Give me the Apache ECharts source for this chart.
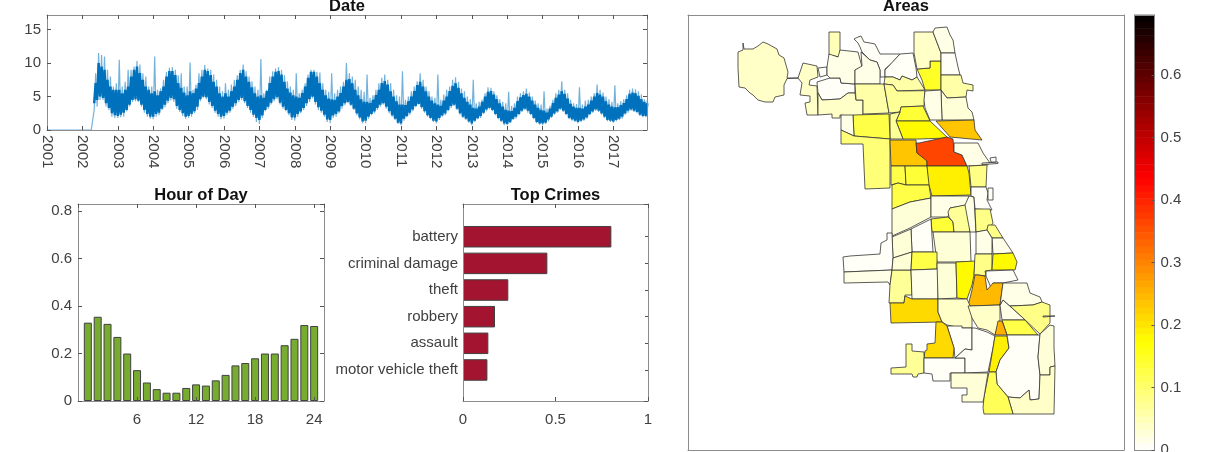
<!DOCTYPE html>
<html>
<head>
<meta charset="utf-8">
<title>Chicago crime</title>
<style>html,body{margin:0;padding:0;background:#fff}#main{width:1212px;height:452px}</style>
<script src="https://cdn.jsdelivr.net/npm/echarts@6/dist/echarts.min.js"></script>
</head>
<body>
<div id="main"></div>
<script>
// monthly band of the daily series, Jan 2001 - Dec 2017
var dateOuterHigh = [
  .1,.1,.1,.1,.1,.1,.1,.1,.1,.1,.1,.1,
  .1,.1,.1,.1,8.5,11.5,11.2,11,9,8,6.5,7,
  10.5,6.5,7.2,9,9,9.5,10.3,9.8,8.5,8,6.5,6.5,
  11,6,6.2,7.5,8.7,9.3,9.4,9,8.2,8.5,6.5,6.5,
  10.1,6,6.8,8.5,9,9.7,9.2,9,8.3,7.5,6.5,5.8,
  7,6,6.8,7.5,8.2,9,9.8,8.8,8,7.3,6.5,6,
  10.6,5.5,6,8,8.8,9.2,9.4,9,8.2,7.3,6.5,6,
  8.5,5.5,6,7,8.3,9,9,8.7,8.6,7,6,5.7,
  8.5,5.5,6,6.5,7.2,10,8.5,8,7.5,6.5,6,5.7,
  8.3,4.8,5.2,6,7,7.8,8.3,7.5,7,6,5.2,5,
  8.8,4.5,5,5.8,6.5,7.3,8.5,7.5,6.5,5.8,5,4.8,
  8.3,4.5,5.3,6,6.5,7.5,7.9,7.2,6.2,5.8,5,4.6,
  7.5,4,4.2,4.5,5.5,6.4,6.3,5.8,5.2,4.6,4.2,4,
  5.7,3.6,4,5,5.5,5.8,6.2,5.6,5,4.4,4,3.8,
  5.8,3.2,3.6,4.5,5.5,6,7.3,6,5.5,4.5,4,3.9,
  6.4,3.8,4.4,4.5,5,5.5,6.8,6,5.6,5,4.6,4.2,
  6.7,4,4.3,4.6,5.2,6,6.2,6.1,5.8,5.3,4.6,4.5
];
var dateOuterLow = [
  0,0,0,0,0,0,0,0,0,0,0,0,
  0,0,0,0,3,3.5,4.5,4.5,3.5,3,2,1.8,
  1.8,1.9,2,2.8,3.5,4.2,4.3,4.2,3.5,2.6,2,1.7,
  1.6,2,2.2,3,3.4,4,4.4,4.2,3.2,2.7,2.1,1.7,
  1.8,2,2.5,3,4.3,4.8,4.6,3.8,3.3,2.6,2,1.6,
  1.7,2.3,2.6,3.2,3.6,4.2,4.5,4,3.3,2.6,2,1.2,
  .9,1.8,2.8,3.2,3.8,4.3,4.6,3.8,3.2,2.8,2.2,1.5,
  1.4,2,2.5,3,3.6,4.2,4.7,3.8,3,2.6,2,1.2,
  1,1.8,2,2.5,3.2,3.7,4,3.6,3,2.2,1.6,1,
  1,1.7,2.2,2.5,3,3.5,3.8,3.2,2.5,2,1.5,.9,
  .7,1.4,1.9,2.3,2.8,3.4,3.8,3.2,2.6,2,1.6,1.2,
  1,1.5,2,2.2,2.8,3.3,3.6,3,2.3,1.8,1.5,1.1,
  .7,1.2,1.6,1.8,2.4,2.8,3.1,2.8,2.2,1.6,1.2,.7,
  .7,1,1.5,1.7,2.2,2.7,3,2.6,2.2,1.6,1,.8,
  .7,.9,1.3,1.8,2.3,2.6,3,2.7,2.2,1.6,1.4,1.2,
  1,1.2,1.4,1.7,2.2,2.6,2.9,2.7,2.3,1.8,1.3,1.2,
  1.1,1.3,1.5,1.7,2.3,2.6,2.9,2.7,2.5,2.1,1.9,1.9
];
// dense part of the trace, starts May 2002
var dateCoreStart = 16;
var dateCoreHigh = [
  7,10,9.5,9,7.5,6.5,6,6,
  6,5.5,6,6.5,8,9,9.5,8.5,7.5,6.5,6,5.5,
  5.8,5.2,5.8,6.5,8,8.8,8.8,8.2,7,6.3,5.6,5.2,
  5.8,5.5,6.2,7,8,9,8.8,8.2,7.2,6.5,5.5,5,
  5.5,5,5.8,6.5,7.5,8.5,9,8,7.2,6.4,5.5,5,
  5.2,4.8,5.8,7,8,8.7,8.8,8.3,7.2,6.2,5.6,5.2,
  5,4.8,5.5,6.5,7.8,8.7,8.7,8,7,6,5.2,4.7,
  4.6,4.5,5,5.5,6.5,7.5,7.6,7,6,5.2,4.6,4.2,
  4.2,4,4.5,5.2,6,7,7.3,6.8,5.8,5,4.3,3.8,
  3.8,3.7,4.3,5,5.8,6.7,7.2,6.5,5.8,5,4.4,4,
  3.8,3.6,4.4,5,5.8,6.6,7,6.3,5.5,4.8,4.2,3.8,
  3.3,3.2,3.5,4.2,5,5.7,5.8,5.3,4.6,4,3.5,3,
  2.9,2.8,3.3,4.3,4.9,5.2,5.4,5,4.4,3.8,3.3,3,
  2.9,2.6,3.2,4,4.8,5.3,5.8,5.4,4.7,3.9,3.5,3.3,
  3.3,3.2,3.5,3.8,4.4,5,5.5,5.3,5,4.3,3.8,3.5,
  3.4,3.4,3.7,4,4.6,5.4,5.6,5.5,5.1,4.6,4.2,4
];
var dateCoreLow = [
  4,4.5,5,4.8,4,3.3,2.5,2.2,
  2.1,2.3,2.6,3,3.8,4.5,4.6,4.4,3.8,3,2.4,2,
  2,2.4,2.6,3.2,3.8,4.4,4.8,4.6,3.6,3,2.5,2,
  2.1,2.4,2.8,3.5,4.6,5,4.9,4.2,3.6,2.9,2.4,2,
  2.1,2.6,2.9,3.5,4,4.5,4.8,4.3,3.6,3,2.3,1.8,
  1.5,2.2,3,3.5,4.1,4.6,4.9,4.1,3.5,3,2.5,1.9,
  1.9,2.4,2.8,3.3,4,4.6,5,4.2,3.4,2.9,2.3,1.6,
  1.5,2.2,2.4,2.8,3.6,4,4.2,3.8,3.2,2.5,1.9,1.3,
  1.4,2,2.4,2.8,3.3,3.8,4,3.5,2.8,2.2,1.7,1.1,
  1,1.7,2.1,2.6,3.1,3.6,3.9,3.4,2.8,2.2,1.8,1.4,
  1.3,1.8,2.2,2.5,3,3.6,3.8,3.2,2.5,2,1.7,1.3,
  1,1.4,1.8,2.1,2.6,3.1,3.3,3,2.4,1.8,1.4,1,
  .9,1.2,1.7,2,2.4,2.9,3.2,2.9,2.4,1.8,1.2,1,
  1,1.1,1.6,2,2.5,2.8,3.2,2.9,2.4,1.8,1.6,1.4,
  1.2,1.4,1.6,1.9,2.4,2.8,3.1,2.9,2.5,2,1.5,1.4,
  1.3,1.5,1.7,2,2.5,2.9,3.1,2.9,2.7,2.3,2.1,2.1
];

var hourValues = [.33,.355,.325,.27,.2,.13,.078,.05,.035,.035,.055,.07,.065,.087,.11,.15,.16,.18,.2,.2,.235,.262,.32,.316];

var crimeNames = ['battery','criminal damage','theft','robbery','assault','motor vehicle theft'];
var crimeValues = [.802,.456,.245,.173,.137,.132];

// one value per outline below, same order
var areaValues = [
  .035,.035,0,0,.035,.05,.012,0,0,.012,
  .06,.055,.07,.15,.035,.012,0,.06,.025,.012,
  .14,.175,.23,.075,.13,.012,.09,.23,.365,.012,
  0,0,.125,.14,.195,.08,.125,.03,.02,.135,
  .07,.02,0,0,.08,.08,.015,.012,.025,.01,
  .03,0,.012,.07,.03,.13,.015,.03,.175,.08,
  .18,0,.24,.21,.04,.01,.21,.07,0,0,
  .04,.015,.02,.08,.13,.255,.195,.008,.03,.035,
  .11,.025,0
];
// area outlines in map units
var areaOutlines = [
  [[738,52],[743,50],[743,43],[744,49],[753,49],[758,46],[763,42],[768,44],[777,49],[779,55],[784,58],[788,72],[787,78],[798,78],[787,78.6],[784,85],[784,95],[775,97],[773,102],[765,102],[758,100],[753,95],[750,93],[745,88],[739,87],[738,68]],
  [[798,78],[803,63],[817,66],[818,77],[810,80],[809,85],[817,86],[818,115],[807,115],[805,103],[810,102],[810,96],[800,95],[802,83]],
  [[817,82],[830,78],[840,78],[841,83],[855,84],[855,93],[848,93],[840,99],[822,100],[818,93]],
  [[818,68],[827,67],[827,75],[820,77]],
  [[822,100],[840,99],[848,93],[855,93],[856,100],[863,100],[863,118],[840,115],[840,118],[832,118],[832,114],[818,115],[818,93]],
  [[829,32],[840,32],[840,57],[829,55]],
  [[829,54],[838,57],[840,50],[858,52],[862,67],[855,70],[855,84],[841,83],[840,78],[830,78],[827,75],[827,67]],
  [[854,39],[858,37],[861,36],[864,42],[870,43],[875,44],[880,54],[900,54],[892,63],[885,69],[885,77],[880,77],[880,70],[877,62],[870,60],[862,52],[860,47],[858,43]],
  [[885,70],[900,54],[913,53],[916,68],[917,77],[912,80],[902,76],[900,80],[893,77],[885,77]],
  [[855,70],[862,66],[861,52],[870,60],[877,62],[880,70],[880,84],[855,84]],
  [[855,84],[884,84],[889,113],[863,114],[863,100],[856,100]],
  [[885,77],[893,77],[900,80],[902,76],[912,80],[917,77],[925,90],[897,91],[893,85],[884,84]],
  [[893,85],[897,91],[925,90.7],[924,106],[901,107],[900,112],[889,113],[884,84]],
  [[917,69],[930,68],[930,61],[941,61],[941,90],[925,90],[922,80]],
  [[914,32],[933,32],[941,53],[941,61],[930,61],[930,68],[917,69],[914,53]],
  [[933,32],[935,28],[947,27],[950,35],[953,40],[955,53],[941,53]],
  [[941,53],[955,53],[958,67],[960,75],[941,75]],
  [[941,75],[961,75],[963,83],[973,85],[973,91],[967,90],[966,97],[947,98],[941,90]],
  [[947,98],[966,97],[968,108],[972,112],[974,120],[942,120],[941,90]],
  [[925,91],[941,90],[942,120],[930,120],[925,108],[924,100]],
  [[901,107],[923,106],[930,121],[896,121],[900,112]],
  [[896,121],[930,121],[948,138],[919,139],[903,139]],
  [[936,121],[974,120],[975,130],[982,140],[950,137]],
  [[890,114],[900,112],[896,121],[903,139],[890,139]],
  [[853,115],[889,114],[890,139],[854,136]],
  [[841,115],[853,115],[854,136],[841,130]],
  [[841,130],[854,136],[890,139],[890,188],[865,189],[863,144],[841,144]],
  [[890,140],[916,140],[917,153],[927,160],[927,166],[891,166]],
  [[919,143],[947,137],[953,139],[954,152],[962,155],[967,166],[927,166],[927,161],[917,153],[916,143]],
  [[954,143],[978,143],[983,153],[990,163],[987,165],[967,166],[962,155],[954,152]],
  [[982,163],[998,162],[998,163.5],[982,164.5]],
  [[990,158],[996,157],[996,162],[991,162]],
  [[891,166],[905,166],[906,185],[898,183],[891,185]],
  [[905,166],[927,166],[930,185],[906,185]],
  [[927,166],[967,166],[969,173],[971,195],[932,196],[929,185]],
  [[969,166],[987,165],[986,187],[971,187]],
  [[892,185],[898,183],[906,185],[929,185],[931,198],[910,202],[892,209]],
  [[892,209],[910,202],[931,198],[931,217],[910,228],[892,236]],
  [[931,196],[969,196],[967,205],[950,208],[948,217],[931,217]],
  [[931,219],[948,217],[953,222],[954,232],[932,232]],
  [[948,212],[950,208],[965,205],[969,210],[970,232],[954,232],[953,222],[949,217]],
  [[969,196],[974,197],[976,232],[970,232],[965,205]],
  [[971,187],[986,187],[988,193],[987,200],[992,210],[975,209],[974,197],[971,196]],
  [[988,188],[993,188],[993,200],[988,200]],
  [[975,209],[990,209],[993,223],[988,230],[976,232]],
  [[988,225],[995,225],[1003,238],[992,238],[987,230]],
  [[992,238],[1003,238],[1013,253],[993,254]],
  [[976,232],[987,230],[992,238],[992,254],[976,254]],
  [[933,232],[970,232],[971,262],[937,262]],
  [[911,229],[931,219],[933,252],[912,252]],
  [[892,237],[911,229],[912,252],[893,258]],
  [[843,257],[850,256],[880,254],[881,243],[887,240],[887,233],[892,233],[893,258],[892,270],[844,272]],
  [[844,272],[892,270],[890,285],[888,282],[844,283]],
  [[892,270],[911,270],[912,295],[905,295],[904,303],[889,303],[890,285]],
  [[893,258],[912,252],[911,270],[892,270]],
  [[912,252],[937,252],[937,269],[911,270]],
  [[911,270],[938,269],[938,299],[912,299]],
  [[937,263],[956,263],[957,298],[938,299]],
  [[956,262],[975,261],[974,275],[972,285],[967,299],[957,298]],
  [[975,254],[992,254],[992,270],[985,271],[986,276],[978,275],[974,275]],
  [[993,254],[1013,253],[1017,262],[1015,270],[992,270]],
  [[986,271],[1013,270],[1018,280],[1003,283],[993,283],[992,290],[986,276]],
  [[978,275],[985,276],[987,290],[993,283],[1003,283],[1000,305],[968,306],[972,290],[975,275]],
  [[905,296],[912,299],[938,299],[938,312],[942,322],[891,323],[890,303],[904,303]],
  [[938,299],[967,299],[972,310],[972,328],[962,328],[947,325],[942,322],[938,312]],
  [[947,326],[962,326],[962,328],[972,328],[972,350],[965,349],[955,358],[954,348]],
  [[936,322],[942,322],[947,326],[954,348],[953,358],[924,358],[925,351],[927,350],[927,344],[935,343]],
  [[906,344],[912,344],[912,351],[924,352],[924,373],[918,374],[917,377],[913,377],[912,374],[891,374],[891,368],[906,367]],
  [[924,358],[965,358],[965,373],[950,373],[950,381],[933,381],[932,374],[924,373]],
  [[972,328],[975,328],[987,332],[995,336],[993,348],[988,372],[965,373],[965,358],[955,358],[965,349],[972,350]],
  [[968,306],[1000,305],[1000,320],[995,335],[987,330],[978,328],[972,318]],
  [[1000,305],[1003,300],[1022,317],[1025,320],[1002,320]],
  [[1003,283],[1027,283],[1030,293],[1040,297],[1042,302],[1033,305],[1010,306],[1003,300],[1000,305]],
  [[1010,306],[1033,305],[1042,302],[1050,305],[1050,323],[1040,334],[1022,317]],
  [[1002,320],[1025,320],[1038,335],[1007,335]],
  [[998,321],[1002,321],[1007,335],[995,335]],
  [[995,336],[1007,336],[1009,348],[1000,360],[996,372],[989,372]],
  [[1007,335],[1040,335],[1038,357],[1040,375],[1039,399],[1030,400],[1029,390],[1020,398],[1008,397],[997,384],[996,372],[1000,360],[1009,348]],
  [[1040,334],[1050,325],[1054,326],[1054,348],[1055,366],[1050,367],[1050,375],[1040,375],[1038,357]],
  [[1040,375],[1050,375],[1050,367],[1055,366],[1054,414],[1013,414],[1008,397],[1020,398],[1029,390],[1030,400],[1039,399]],
  [[989,372],[996,372],[997,384],[1008,397],[1013,414],[984,414],[983,408],[984,397]],
  [[951,373],[988,373],[984,397],[983,402],[962,402],[962,395],[967,395],[967,388],[951,388]],
  [[1043,316],[1055,316],[1055,317],[1043,317]]
];

var colorMax = 0.696;
var colorSteps = 64;

var fontName = 'Liberation Sans';
var textColor = '#404040';
var frameColor = '#8c8c8c';

// zigzag between the low and high of each month, so the band reads as a dense daily trace
function zigzag(low, high, start) {
    var pts = [];
    for (var i = 0; i < low.length; i++) {
        var t = 2001 + (i + start) / 12;
        pts.push([t, low[i]]);
        pts.push([t + 1 / 24, high[i]]);
    }
    return pts;
}

// MATLAB's hot map, flipped
function hotPieces() {
    var list = [];
    for (var i = 0; i < colorSteps; i++) {
        var h = 1 - (i + 0.5) / colorSteps;
        var r = Math.min(1, h / 0.375);
        var g = Math.max(0, Math.min(1, (h - 0.375) / 0.375));
        var b = Math.max(0, Math.min(1, (h - 0.75) / 0.25));
        list.push({
            min: colorMax * i / colorSteps,
            max: colorMax * (i + 1) / colorSteps,
            color: 'rgb(' + Math.round(r * 255) + ',' + Math.round(g * 255) + ',' + Math.round(b * 255) + ')'
        });
    }
    return list;
}

function colorbarCells() {
    var cells = [];
    for (var i = 0; i < colorSteps; i++) {
        cells.push([0, i, colorMax * (i + 0.5) / colorSteps]);
    }
    return cells;
}

function mapData() {
    var out = [];
    for (var i = 0; i < areaValues.length; i++) {
        out.push({ name: 'area' + i, value: areaValues[i] });
    }
    return out;
}

function mapJson() {
    var features = areaOutlines.map(function (ring, i) {
        return {
            type: 'Feature',
            properties: { name: 'area' + i },
            geometry: { type: 'Polygon', coordinates: [ring.concat([ring[0]])] }
        };
    });
    return { type: 'FeatureCollection', features: features };
}

echarts.registerMap('chicago', mapJson());

function ticks(inside, len) {
    return { show: inside, inside: true, length: len || 4, lineStyle: { color: '#555', width: 1 } };
}
function lineOn() {
    return { show: true, onZero: false, lineStyle: { color: frameColor, width: 1 } };
}
function labelStyle(extra) {
    var o = { color: textColor, fontFamily: fontName, fontSize: 15, hideOverlap: false };
    for (var k in extra) o[k] = extra[k];
    return o;
}
function plainAxis(gridIndex, type, position, min, max, interval) {
    return {
        type: type, gridIndex: gridIndex, position: position, min: min, max: max, interval: interval, z: 10,
        splitLine: { show: false }, axisLine: lineOn(), axisTick: ticks(true), axisLabel: { show: false }
    };
}

var xAxes = [], yAxes = [];

function addBox(gridIndex, x, y) {
    xAxes.push(x);
    yAxes.push(y);
    xAxes.push(plainAxis(gridIndex, 'value', 'top', x.min, x.max, x.interval));
    yAxes.push(plainAxis(gridIndex, 'value', 'right', y.min, y.max, y.interval));
}

// 0 date
var dx = plainAxis(0, 'value', 'bottom', 2001, 2017.95, 1);
dx.axisLabel = labelStyle({ show: true, rotate: -90, margin: 5, showMaxLabel: false, formatter: function (v) { return '' + v; } });
var dy = plainAxis(0, 'value', 'left', 0, 17.2, 5);
dy.axisLabel = labelStyle({ show: true, margin: 6, showMaxLabel: false });
addBox(0, dx, dy);

// 1 hour of day
var hx = plainAxis(1, 'value', 'bottom', 0, 25, 6);
hx.axisLabel = labelStyle({ show: true, margin: 11, showMinLabel: false, showMaxLabel: false });
var hy = plainAxis(1, 'value', 'left', 0, 0.83, 0.2);
hy.axisLabel = labelStyle({ show: true, margin: 6, showMaxLabel: false });
addBox(1, hx, hy);

// 2 top crimes frame with the x scale
var cx = plainAxis(2, 'value', 'bottom', 0, 1, 0.5);
cx.axisLabel = labelStyle({ show: true, margin: 11 });
var cy = plainAxis(2, 'value', 'left', 0, 1, 1);
cy.axisTick = { show: false };
addBox(2, cx, cy);

// 3 top crimes bars, set inside the frame so the bands line up
xAxes.push({ type: 'value', gridIndex: 3, min: 0, max: 1, show: false });
yAxes.push({
    type: 'category', gridIndex: 3, data: crimeNames, inverse: true, position: 'left',
    axisLine: { show: false }, axisTick: { show: false },
    axisLabel: labelStyle({ show: true, margin: 5 })
});
yAxes.push({
    type: 'category', gridIndex: 3, data: crimeNames, inverse: true, position: 'right',
    axisLine: { show: false }, axisTick: { show: true, inside: true, length: 3, alignWithLabel: true, lineStyle: { color: '#555' } },
    axisLabel: { show: false }
});

// 4 map frame
var mx = plainAxis(4, 'value', 'bottom', 0, 1, 1);
mx.axisTick = { show: false };
var my = plainAxis(4, 'value', 'left', 0, 1, 1);
my.axisTick = { show: false };
xAxes.push(mx);
yAxes.push(my);
var mx2 = plainAxis(4, 'value', 'top', 0, 1, 1);
mx2.axisTick = { show: false };
var my2 = plainAxis(4, 'value', 'right', 0, 1, 1);
my2.axisTick = { show: false };
xAxes.push(mx2);
yAxes.push(my2);

// 5 colorbar scale
var barTop = plainAxis(5, 'value', 'top', 0, 1, 1);
barTop.axisTick = { show: false };
var barBottom = plainAxis(5, 'value', 'bottom', 0, 1, 1);
barBottom.axisTick = { show: false };
xAxes.push(barTop);
xAxes.push(barBottom);
var barLeft = plainAxis(5, 'value', 'left', 0, colorMax, 0.1);
barLeft.axisTick = { show: false };
var barRight = plainAxis(5, 'value', 'right', 0, colorMax, 0.1);
barRight.axisTick = ticks(true, 3);
barRight.axisLabel = labelStyle({ show: true, margin: 6, showMaxLabel: false });
yAxes.push(barLeft);
yAxes.push(barRight);

// 6 colorbar cells
var stepNames = colorbarCells().map(function (c) { return c[1]; });
xAxes.push({ type: 'category', gridIndex: 6, data: [0], show: false });
yAxes.push({ type: 'category', gridIndex: 6, data: stepNames, show: false });

function axisIdx(list, grid) {
    for (var i = 0; i < list.length; i++) if (list[i].gridIndex === grid) return i;
}
function titleAt(text, x, y) {
    return {
        text: text, left: x, top: y, textAlign: 'center', padding: 0,
        textStyle: { fontFamily: fontName, fontSize: 16.5, fontWeight: 'bold', color: '#111' }
    };
}
function gridAt(left, top, width, height) {
    return { left: left, top: top, width: width, height: height, outerBoundsMode: 'none' };
}

var option = {
    animation: false,
    backgroundColor: '#fff',
    title: [
        titleAt('Date', 347, -2),
        titleAt('Hour of Day', 201, 187),
        titleAt('Top Crimes', 555.5, 187),
        titleAt('Areas', 906, -2)
    ],
    grid: [
        gridAt(47, 15, 600, 115),
        gridAt(78, 204, 246, 197),
        gridAt(463, 204, 185, 197),
        gridAt(463, 223.4, 185, 159.9),
        gridAt(688, 15, 436, 435),
        gridAt(1134.5, 15, 20, 435),
        gridAt(1134.5, 15, 20, 435)
    ],
    xAxis: xAxes,
    yAxis: yAxes,
    visualMap: {
        type: 'piecewise',
        show: false,
        seriesIndex: [4, 5],
        pieces: hotPieces()
    },
    series: [
        {
            name: 'Date band', type: 'line', xAxisIndex: axisIdx(xAxes, 0), yAxisIndex: axisIdx(yAxes, 0),
            data: zigzag(dateOuterLow, dateOuterHigh, 0), showSymbol: false, silent: true,
            lineStyle: { color: '#0072BD', width: 1.2, opacity: 0.55 }
        },
        {
            name: 'Date', type: 'line', xAxisIndex: axisIdx(xAxes, 0), yAxisIndex: axisIdx(yAxes, 0),
            data: zigzag(dateCoreLow, dateCoreHigh, dateCoreStart), showSymbol: false, silent: true,
            lineStyle: { color: '#0072BD', width: 2.5 }
        },
        {
            name: 'Hour of Day', type: 'bar', xAxisIndex: axisIdx(xAxes, 1), yAxisIndex: axisIdx(yAxes, 1),
            data: hourValues.map(function (v, i) { return [i + 1, v]; }),
            barWidth: 8, silent: true,
            itemStyle: { color: '#77AC30', borderColor: '#404040', borderWidth: 1 }
        },
        {
            name: 'Top Crimes', type: 'bar', xAxisIndex: axisIdx(xAxes, 3), yAxisIndex: axisIdx(yAxes, 3),
            data: crimeValues, barWidth: 21.5, silent: true,
            itemStyle: { color: '#A2142F', borderColor: '#404040', borderWidth: 1 }
        },
        {
            name: 'Areas', type: 'map', map: 'chicago',
            projection: {
                project: function (p) { return [p[0], p[1]]; },
                unproject: function (p) { return [p[0], p[1]]; }
            },
            aspectScale: 1,
            left: 738, top: 27, width: 317, height: 387,
            roam: false, silent: true, selectedMode: false,
            label: { show: false },
            itemStyle: { borderColor: '#333', borderWidth: 0.8, areaColor: '#fff' },
            emphasis: { disabled: true },
            data: mapData()
        },
        {
            name: 'Scale', type: 'heatmap', xAxisIndex: axisIdx(xAxes, 6), yAxisIndex: axisIdx(yAxes, 6),
            data: colorbarCells(), silent: true
        }
    ]
};

var myChart = echarts.init(document.getElementById('main'));
myChart.setOption(option);
</script>
</body>
</html>
